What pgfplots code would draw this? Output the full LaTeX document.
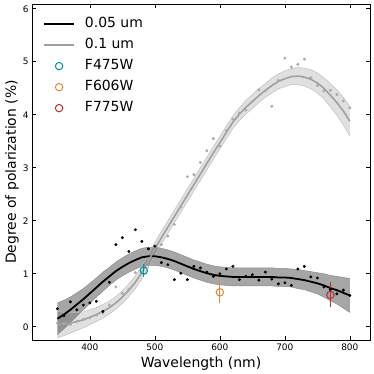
\documentclass[border=0pt]{standalone}
\usepackage{pgfplots}
\pgfplotsset{compat=1.18}
\usepackage{pgfplotstable}
\usepgfplotslibrary{fillbetween}
\usepackage{fontspec}
\setmainfont{DejaVu Sans}
\definecolor{cteal}{RGB}{0,150,150}
\definecolor{corange}{RGB}{226,136,52}
\definecolor{cred}{RGB}{188,44,44}
\definecolor{cgline}{RGB}{160,160,160}
\definecolor{cgpt}{RGB}{170,170,170}

\pgfplotstableread{
x c hw
350 0.15 0.30
360 0.23 0.27
370 0.32 0.24
380 0.42 0.22
390 0.52 0.20
400 0.63 0.19
410 0.74 0.18
420 0.85 0.18
430 0.95 0.17
440 1.05 0.17
450 1.13 0.17
460 1.20 0.17
470 1.26 0.17
480 1.31 0.17
490 1.33 0.17
500 1.33 0.17
510 1.31 0.17
520 1.28 0.17
530 1.24 0.17
540 1.19 0.17
550 1.14 0.17
560 1.09 0.17
570 1.05 0.17
580 1.01 0.17
590 0.98 0.17
600 0.96 0.17
610 0.95 0.17
620 0.94 0.17
630 0.94 0.17
640 0.94 0.17
650 0.94 0.17
660 0.94 0.17
670 0.94 0.17
680 0.94 0.17
690 0.93 0.17
700 0.93 0.17
710 0.92 0.17
720 0.90 0.18
730 0.88 0.18
740 0.85 0.19
750 0.82 0.20
760 0.78 0.22
770 0.73 0.24
780 0.69 0.26
790 0.64 0.29
800 0.59 0.32
}\blackfit

\pgfplotstableread{
x c hw
350 0.04 0.25
360 0.05 0.22
370 0.07 0.19
380 0.10 0.17
390 0.13 0.15
400 0.18 0.14
410 0.23 0.13
420 0.29 0.13
430 0.36 0.12
440 0.45 0.12
450 0.56 0.12
460 0.69 0.12
470 0.84 0.12
480 1.02 0.12
490 1.24 0.12
500 1.47 0.12
510 1.68 0.12
520 1.88 0.12
530 2.08 0.12
540 2.28 0.12
550 2.48 0.12
560 2.68 0.12
570 2.88 0.12
580 3.08 0.12
590 3.28 0.12
600 3.47 0.12
610 3.67 0.12
620 3.86 0.12
630 4.01 0.12
640 4.14 0.13
650 4.25 0.13
660 4.36 0.13
670 4.46 0.13
680 4.55 0.14
690 4.63 0.14
700 4.68 0.15
710 4.72 0.15
720 4.73 0.16
730 4.71 0.17
740 4.67 0.18
750 4.60 0.19
760 4.50 0.20
770 4.37 0.22
780 4.23 0.24
790 4.07 0.26
800 3.88 0.28
}\grayfit

\pgfplotstableread{
x y
350 0.34
360 0.21
370 0.47
380 0.32
390 0.41
400 0.45
410 0.48
420 0.29
430 0.84
440 1.55
450 1.68
460 1.42
470 1.83
480 1.61
490 1.47
500 1.52
510 1.21
520 1.17
530 0.89
540 1.01
550 0.89
560 1.14
570 1.11
580 1.03
590 0.95
600 1.00
610 1.09
620 1.14
630 0.89
640 0.95
650 0.98
660 0.88
670 1.03
680 0.90
690 0.81
700 0.83
710 0.78
720 1.09
730 1.14
740 0.94
750 0.92
760 0.75
770 0.70
780 0.62
790 0.69
800 0.59
}\blackpts

\pgfplotstableread{
x y
350 0.07
360 0.06
370 0.04
380 0.10
390 0.14
400 0.17
410 0.22
420 0.26
430 0.41
440 0.75
450 0.63
460 0.71
470 1.02
480 1.03
490 1.28
500 1.50
510 1.55
520 1.71
530 1.93
540 2.26
550 2.83
560 2.87
570 3.10
580 3.32
590 3.55
600 3.41
610 3.70
620 3.92
630 4.03
640 4.09
650 4.25
660 4.47
670 4.45
680 4.16
690 4.65
700 5.07
710 4.90
720 4.95
730 5.05
740 4.70
750 4.55
760 4.45
770 4.46
780 4.38
790 4.26
800 4.13
}\graypts

\begin{document}
\begin{tikzpicture}
\begin{axis}[
  at={(0,0)}, anchor=south west,
  scale only axis, width=338bp, height=336bp,
  xmin=311, xmax=831, ymin=-0.25, ymax=6.09,
  xtick={400,500,600,700,800}, ytick={0,1,2,3,4,5,6},
  tick align=inside, xtick pos=both, ytick pos=both,
  xticklabel pos=bottom, yticklabel pos=left,
  major tick length=4bp,
  tick style={black, line width=0.6pt},
  axis line style={line width=0.8pt},
  ticklabel style={font=\fontsize{9}{10}\selectfont},
  /pgf/number format/assume math mode=true,
  xlabel={Wavelength (nm)},
  ylabel={Degree of polarization (\%)},
  label style={font=\fontsize{14}{16}\selectfont},
  xlabel style={at={(axis description cs:0.5,-0.071)}, anchor=center},
  ylabel style={at={(axis description cs:-0.0592,0.5)}, anchor=center},
  legend cell align=left,
  legend style={draw=none, fill=none, at={(axis description cs:0.0325,0.96)},
    anchor=north west, font=\fontsize{14}{16}\selectfont, inner sep=0pt,
    row sep=8bp, column sep=10bp,
    nodes={inner sep=0pt, text height=10bp, text depth=3bp}},
  legend image code/.code={\draw[mark repeat=2,mark phase=2] plot coordinates {(0bp,0bp) (15bp,0bp) (30bp,0bp)};},
]
% bands
\addplot[draw=none, name path=bu, forget plot] table[x=x, y expr=\thisrow{c}+\thisrow{hw}] {\blackfit};
\addplot[draw=none, name path=bl, forget plot] table[x=x, y expr=\thisrow{c}-\thisrow{hw}] {\blackfit};
\addplot[fill=black, fill opacity=0.35, draw=none, forget plot] fill between[of=bu and bl];
\addplot[draw=black!45, line width=0.5pt, forget plot] table[x=x, y expr=\thisrow{c}+\thisrow{hw}] {\blackfit};
\addplot[draw=black!45, line width=0.5pt, forget plot] table[x=x, y expr=\thisrow{c}-\thisrow{hw}] {\blackfit};

\addplot[draw=none, name path=gu, forget plot] table[x=x, y expr=\thisrow{c}+\thisrow{hw}] {\grayfit};
\addplot[draw=none, name path=gl, forget plot] table[x=x, y expr=\thisrow{c}-\thisrow{hw}] {\grayfit};
\addplot[fill=black, fill opacity=0.12, draw=none, forget plot] fill between[of=gu and gl];
\addplot[draw=black!25, line width=0.5pt, forget plot] table[x=x, y expr=\thisrow{c}+\thisrow{hw}] {\grayfit};
\addplot[draw=black!25, line width=0.5pt, forget plot] table[x=x, y expr=\thisrow{c}-\thisrow{hw}] {\grayfit};

% fit lines
\addplot[black, line width=1.8bp, no marks] table[x=x, y=c] {\blackfit};
\addlegendentry{0.05 um}
\addplot[cgline, line width=1.6bp, no marks] table[x=x, y=c] {\grayfit};
\addlegendentry{0.1 um}

% points
\addplot[only marks, mark=*, mark size=1.3bp, cgpt, forget plot] table[x=x, y=y] {\graypts};
\addplot[only marks, mark=*, mark size=1.3bp, black, forget plot] table[x=x, y=y] {\blackpts};

% filter measurements
\addplot[cteal, line width=1bp, only marks, mark=o, mark size=3.7bp,
  mark options={line width=1bp},
  error bars/.cd, y dir=both, y explicit, error bar style={line width=1bp}, error mark=none]
  coordinates {(483,1.06) +- (0,0.12)};
\addlegendentry{F475W}
\addplot[corange, line width=1bp, only marks, mark=o, mark size=3.7bp,
  mark options={line width=1bp},
  error bars/.cd, y dir=both, y explicit, error bar style={line width=1bp}, error mark=none]
  coordinates {(600,0.65) +- (0,0.21)};
\addlegendentry{F606W}
\addplot[cred, line width=1bp, only marks, mark=o, mark size=3.7bp,
  mark options={line width=1bp},
  error bars/.cd, y dir=both, y explicit, error bar style={line width=1bp}, error mark=none]
  coordinates {(770,0.60) +- (0,0.235)};
\addlegendentry{F775W}
\end{axis}
\pgfresetboundingbox
\path[use as bounding box] (-32bp,-34bp) rectangle (342bp,340bp);
\end{tikzpicture}
\end{document}
